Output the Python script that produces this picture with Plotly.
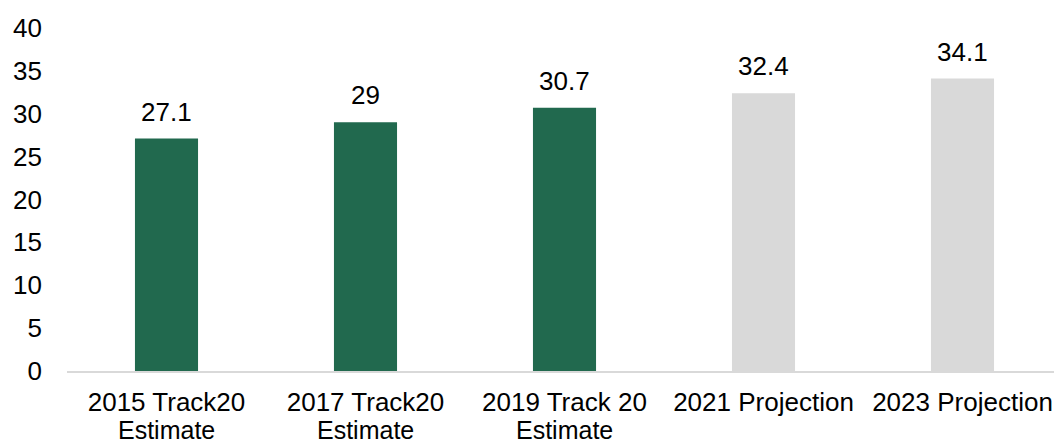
import plotly.graph_objects as go

line1 = ["2015 Track20", "2017 Track20", "2019 Track 20", "2021 Projection", "2023 Projection"]
line2 = ["Estimate", "Estimate", "Estimate", "", ""]
values = [27.1, 29, 30.7, 32.4, 34.1]
labels = ["27.1", "29", "30.7", "32.4", "34.1"]
colors = ["#21694E", "#21694E", "#21694E", "#D9D9D9", "#D9D9D9"]
y_ticks = [0, 5, 10, 15, 20, 25, 30, 35, 40]

FONT = "Liberation Sans, Arial, sans-serif"

fig = go.Figure()
fig.add_trace(go.Bar(x=list(range(len(line1))), y=values, marker=dict(color=colors, line=dict(width=0)),
                     hoverinfo="skip"))

for i, (v, t) in enumerate(zip(values, labels)):
    fig.add_annotation(x=i, y=v, text=t, showarrow=False, yanchor="bottom", yshift=10,
                       font=dict(family=FONT, size=26, color="#000000"))

for i, t in enumerate(line2):
    if t:
        fig.add_annotation(x=i, xref="x", y=0, yref="paper", text=t, showarrow=False,
                           yanchor="top", yshift=-43,
                           font=dict(family=FONT, size=25, color="#000000"))

fig.update_layout(
    width=1054, height=443,
    margin=dict(l=67, r=0, t=28, b=72, autoexpand=False),
    paper_bgcolor="white", plot_bgcolor="white",
    showlegend=False,
    bargap=0.683,
    font=dict(family=FONT, size=26, color="#000000"),
)
fig.update_xaxes(
    tickmode="array", tickvals=list(range(len(line1))), ticktext=line1,
    range=[-0.5, -0.5 + (1054 - 67) / 199],
    showline=True, linecolor="#D9D9D9", linewidth=2,
    showgrid=False, zeroline=False, ticks="", ticklabelstandoff=7,
    automargin=False,
    tickfont=dict(family=FONT, size=26, color="#000000"),
)
fig.update_yaxes(
    range=[0, 40], tickmode="array", tickvals=y_ticks,
    showgrid=False, zeroline=False, showline=False, ticks="",
    ticklabelstandoff=24, automargin=False,
    tickfont=dict(family=FONT, size=26, color="#000000"),
)
fig.write_html("out.html")
